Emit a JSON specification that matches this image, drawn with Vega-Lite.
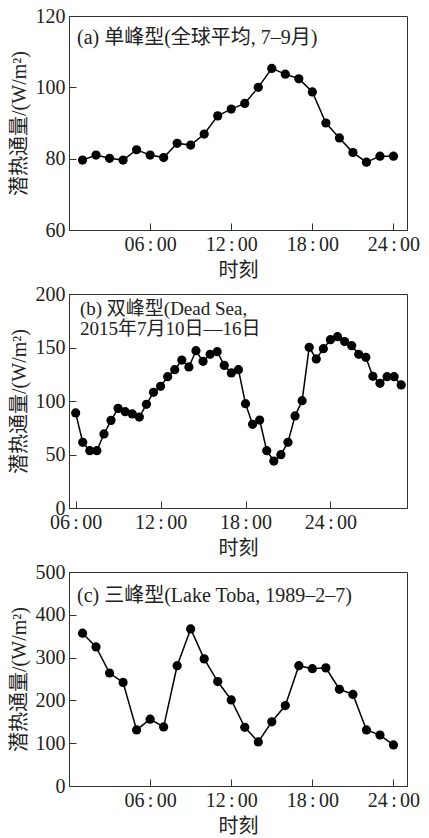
{
  "$schema": "https://vega.github.io/schema/vega-lite/v6.json",
  "padding": {"left": 8, "top": 5, "right": 5, "bottom": 5},
  "background": "white",
  "datasets": {
    "a": [
      {"hour": 1, "flux": 79.6}, {"hour": 2, "flux": 81.0}, {"hour": 3, "flux": 80.1}, {"hour": 4, "flux": 79.6},
      {"hour": 5, "flux": 82.5}, {"hour": 6, "flux": 81.0}, {"hour": 7, "flux": 80.3}, {"hour": 8, "flux": 84.3},
      {"hour": 9, "flux": 83.8}, {"hour": 10, "flux": 86.9}, {"hour": 11, "flux": 92.0}, {"hour": 12, "flux": 93.9},
      {"hour": 13, "flux": 95.5}, {"hour": 14, "flux": 100.0}, {"hour": 15, "flux": 105.3}, {"hour": 16, "flux": 103.7},
      {"hour": 17, "flux": 102.4}, {"hour": 18, "flux": 98.7}, {"hour": 19, "flux": 90.0}, {"hour": 20, "flux": 85.8},
      {"hour": 21, "flux": 81.7}, {"hour": 22, "flux": 79.0}, {"hour": 23, "flux": 80.7}, {"hour": 24, "flux": 80.7}
    ],
    "b": [
      {"hour": 6.0, "flux": 88.8}, {"hour": 6.5, "flux": 61.4}, {"hour": 7.0, "flux": 53.6}, {"hour": 7.5, "flux": 53.6},
      {"hour": 8.0, "flux": 69.2}, {"hour": 8.5, "flux": 81.9}, {"hour": 9.0, "flux": 93.1}, {"hour": 9.5, "flux": 90.0},
      {"hour": 10.0, "flux": 87.9}, {"hour": 10.5, "flux": 85.0}, {"hour": 11.0, "flux": 96.9}, {"hour": 11.5, "flux": 108.1},
      {"hour": 12.0, "flux": 113.7}, {"hour": 12.5, "flux": 122.7}, {"hour": 13.0, "flux": 129.3}, {"hour": 13.5, "flux": 138.3},
      {"hour": 14.0, "flux": 131.8}, {"hour": 14.5, "flux": 147.0}, {"hour": 15.0, "flux": 137.1}, {"hour": 15.5, "flux": 143.6},
      {"hour": 16.0, "flux": 146.1}, {"hour": 16.5, "flux": 133.3}, {"hour": 17.0, "flux": 126.2}, {"hour": 17.5, "flux": 129.3},
      {"hour": 18.0, "flux": 97.5}, {"hour": 18.5, "flux": 78.2}, {"hour": 19.0, "flux": 82.2}, {"hour": 19.5, "flux": 53.6},
      {"hour": 20.0, "flux": 43.9}, {"hour": 20.5, "flux": 49.8}, {"hour": 21.0, "flux": 61.4}, {"hour": 21.5, "flux": 86.0},
      {"hour": 22.0, "flux": 100.3}, {"hour": 22.5, "flux": 150.2}, {"hour": 23.0, "flux": 139.3}, {"hour": 23.5, "flux": 148.9},
      {"hour": 24.0, "flux": 157.3}, {"hour": 24.5, "flux": 160.1}, {"hour": 25.0, "flux": 155.5}, {"hour": 25.5, "flux": 151.7},
      {"hour": 26.0, "flux": 143.6}, {"hour": 26.5, "flux": 140.8}, {"hour": 27.0, "flux": 123.1}, {"hour": 27.5, "flux": 116.5},
      {"hour": 28.0, "flux": 122.7}, {"hour": 28.5, "flux": 122.7}, {"hour": 29.0, "flux": 115.0}
    ],
    "c": [
      {"hour": 1, "flux": 357}, {"hour": 2, "flux": 325}, {"hour": 3, "flux": 264}, {"hour": 4, "flux": 242},
      {"hour": 5, "flux": 131}, {"hour": 6, "flux": 156}, {"hour": 7, "flux": 138}, {"hour": 8, "flux": 281},
      {"hour": 9, "flux": 367}, {"hour": 10, "flux": 297}, {"hour": 11, "flux": 244}, {"hour": 12, "flux": 201},
      {"hour": 13, "flux": 137}, {"hour": 14, "flux": 103}, {"hour": 15, "flux": 150}, {"hour": 16, "flux": 188},
      {"hour": 17, "flux": 281}, {"hour": 18, "flux": 274}, {"hour": 19, "flux": 276}, {"hour": 20, "flux": 226},
      {"hour": 21, "flux": 214}, {"hour": 22, "flux": 131}, {"hour": 23, "flux": 119}, {"hour": 24, "flux": 96}
    ]
  },
  "spacing": 2,
  "vconcat": [
    {
      "width": 338, "height": 214,
      "layer": [
        {"data": {"name": "a"}, "mark": {"type": "line", "color": "black", "strokeWidth": 1.5},
         "encoding": {
          "x": {"field": "hour", "type": "quantitative", "scale": {"domain": [0, 25], "nice": false, "zero": false},
                "axis": {"values": [6, 12, 18, 24], "labelExpr": "(datum.value < 10 ? '0' : '') + datum.value + '\u2006:\u200600'", "title": "时刻",
                         "labelFont": "Liberation Serif, Times New Roman, serif", "titleFont": "Liberation Serif, Noto Sans CJK SC, serif"}},
          "y": {"field": "flux", "type": "quantitative", "scale": {"domain": [60, 120], "nice": false, "zero": false},
                "axis": {"values": [60, 80, 100, 120], "title": "潜热通量/(W/m²)",
                         "labelFont": "Liberation Serif, Times New Roman, serif", "titleFont": "Liberation Serif, Noto Sans CJK SC, serif"}}}},
        {"data": {"name": "a"}, "mark": {"type": "circle", "color": "black", "size": 85, "opacity": 1},
         "encoding": {"x": {"field": "hour", "type": "quantitative"}, "y": {"field": "flux", "type": "quantitative"}}},
        {"data": {"values": [{}]},
         "mark": {"type": "text", "align": "left", "baseline": "alphabetic", "fontSize": 20, "color": "#222"},
         "encoding": {"x": {"datum": 0.59, "type": "quantitative"}, "y": {"datum": 112.1, "type": "quantitative"}, "text": {"value": "(a) 单峰型(全球平均, 7–9月)"}}}
      ]
    },
    {
      "width": 338, "height": 214,
      "layer": [
        {"data": {"name": "b"}, "mark": {"type": "line", "color": "black", "strokeWidth": 1.5},
         "encoding": {
          "x": {"field": "hour", "type": "quantitative", "scale": {"domain": [5.53, 29.41], "nice": false, "zero": false},
                "axis": {"values": [6, 12, 18, 24], "labelExpr": "(datum.value < 10 ? '0' : '') + datum.value + '\u2006:\u200600'", "title": "时刻",
                         "labelFont": "Liberation Serif, Times New Roman, serif", "titleFont": "Liberation Serif, Noto Sans CJK SC, serif"}},
          "y": {"field": "flux", "type": "quantitative", "scale": {"domain": [0, 200], "nice": false},
                "axis": {"values": [0, 50, 100, 150, 200], "title": "潜热通量/(W/m²)",
                         "labelFont": "Liberation Serif, Times New Roman, serif", "titleFont": "Liberation Serif, Noto Sans CJK SC, serif"}}}},
        {"data": {"name": "b"}, "mark": {"type": "circle", "color": "black", "size": 85, "opacity": 1},
         "encoding": {"x": {"field": "hour", "type": "quantitative"}, "y": {"field": "flux", "type": "quantitative"}}},
        {"data": {"values": [{}]},
         "mark": {"type": "text", "align": "left", "baseline": "alphabetic", "lineHeight": 20, "fontSize": 19, "color": "#222"},
         "encoding": {"x": {"datum": 6.3, "type": "quantitative"}, "y": {"datum": 180.4, "type": "quantitative"}, "text": {"value": ["(b) 双峰型(Dead Sea,", "2015年7月10日—16日"]}}}
      ]
    },
    {
      "width": 338, "height": 214,
      "layer": [
        {"data": {"name": "c"}, "mark": {"type": "line", "color": "black", "strokeWidth": 1.5},
         "encoding": {
          "x": {"field": "hour", "type": "quantitative", "scale": {"domain": [0, 25], "nice": false, "zero": false},
                "axis": {"values": [6, 12, 18, 24], "labelExpr": "(datum.value < 10 ? '0' : '') + datum.value + '\u2006:\u200600'", "title": "时刻",
                         "labelFont": "Liberation Serif, Times New Roman, serif", "titleFont": "Liberation Serif, Noto Sans CJK SC, serif"}},
          "y": {"field": "flux", "type": "quantitative", "scale": {"domain": [0, 500], "nice": false},
                "axis": {"values": [0, 100, 200, 300, 400, 500], "title": "潜热通量/(W/m²)",
                         "labelFont": "Liberation Serif, Times New Roman, serif", "titleFont": "Liberation Serif, Noto Sans CJK SC, serif"}}}},
        {"data": {"name": "c"}, "mark": {"type": "circle", "color": "black", "size": 85, "opacity": 1},
         "encoding": {"x": {"field": "hour", "type": "quantitative"}, "y": {"field": "flux", "type": "quantitative"}}},
        {"data": {"values": [{}]},
         "mark": {"type": "text", "align": "left", "baseline": "alphabetic", "fontSize": 20, "color": "#222"},
         "encoding": {"x": {"datum": 0.59, "type": "quantitative"}, "y": {"datum": 430, "type": "quantitative"}, "text": {"value": "(c) 三峰型(Lake Toba, 1989–2–7)"}}}
      ]
    }
  ],
  "config": {
    "view": {"stroke": "#333", "strokeWidth": 1},
    "text": {"font": "Liberation Serif, Noto Sans CJK SC, serif"},
    "style": {
      "guide-label": {"font": "Liberation Serif, Times New Roman, serif"},
      "guide-title": {"font": "Liberation Serif, Noto Sans CJK SC, serif"}
    },
    "axis": {
      "grid": false, "domainColor": "#333", "tickColor": "#333", "tickSize": -7, "labelPadding": 11,
      "labelFont": "Liberation Serif, Times New Roman, serif", "labelFontSize": 20, "labelColor": "#222",
      "titleFont": "Liberation Serif, Noto Sans CJK SC, serif", "titleFontSize": 20, "titleFontWeight": "normal", "titleColor": "#222",
      "titlePadding": 6
    }
  }
}
